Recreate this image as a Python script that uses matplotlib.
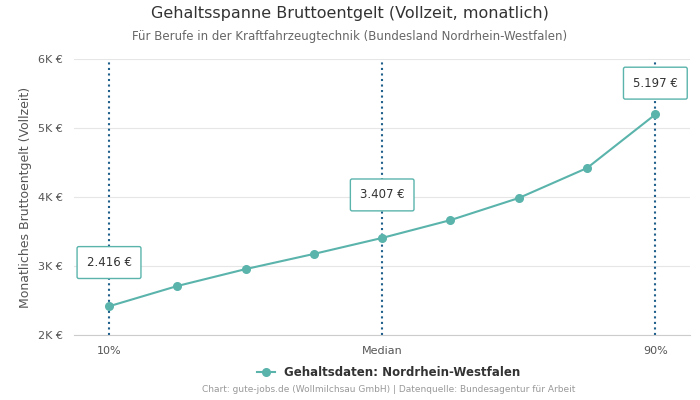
import matplotlib
matplotlib.use("Agg")
import matplotlib.pyplot as plt

positions = [0, 1, 2, 3, 4, 5, 6, 7, 8]
values = [2416, 2710, 2955, 3175, 3407, 3665, 3985, 4420, 5197]
tick_pos = [0, 4, 8]
tick_labels = ["10%", "Median", "90%"]
yticks = [2000, 3000, 4000, 5000, 6000]
ytick_labels = ["2K €", "3K €", "4K €", "5K €", "6K €"]
annot_idx = [0, 4, 8]
annot_text = ["2.416 €", "3.407 €", "5.197 €"]
annot_y = [3050, 4030, 5650]

color = "#5ab4ac"
fig = plt.figure(figsize=(7, 4), dpi=100)
ax = fig.add_axes([0.105, 0.1625, 0.88, 0.69])
ax.set_xlim(-0.52, 8.5)
ax.set_ylim(2000, 6000)
ax.set_yticks(yticks)
ax.set_yticklabels(ytick_labels)
ax.set_xticks(tick_pos)
ax.set_xticklabels(tick_labels)
ax.grid(axis="y", color="#e6e6e6", lw=0.8)
ax.set_axisbelow(True)
for s in ["top", "right", "left"]:
    ax.spines[s].set_visible(False)
ax.spines["bottom"].set_color("#cccccc")
ax.tick_params(length=0, labelsize=8, colors="#555555", pad=8)
for i in annot_idx:
    ax.axvline(positions[i], color="#1f5f8b", ls=":", lw=1.5)
ax.plot(positions, values, color=color, lw=1.5, marker="o", ms=5.5,
        label="Gehaltsdaten: Nordrhein-Westfalen")
for i, t, y in zip(annot_idx, annot_text, annot_y):
    ax.text(positions[i], y, t, ha="center", va="center", fontsize=8.5, color="#333333",
            bbox=dict(boxstyle="round,pad=0.8,rounding_size=0.15", fc="white", ec=color, lw=1))
ax.set_ylabel("Monatliches Bruttoentgelt (Vollzeit)", fontsize=9, color="#555555")
fig.text(0.5, 0.955, "Gehaltsspanne Bruttoentgelt (Vollzeit, monatlich)", ha="center", fontsize=11.5, color="#333333")
fig.text(0.5, 0.9, "Für Berufe in der Kraftfahrzeugtechnik (Bundesland Nordrhein-Westfalen)", ha="center", fontsize=8.5, color="#666666")
leg = fig.legend(loc="center", bbox_to_anchor=(0.555, 0.068), frameon=False,
                 prop={"size": 8.5, "weight": "bold"}, handlelength=1.5)
for t in leg.get_texts():
    t.set_color("#333333")
fig.text(0.555, 0.02, "Chart: gute-jobs.de (Wollmilchsau GmbH) | Datenquelle: Bundesagentur für Arbeit",
         ha="center", fontsize=6.5, color="#999999")
fig.savefig("out.png", dpi=100)
